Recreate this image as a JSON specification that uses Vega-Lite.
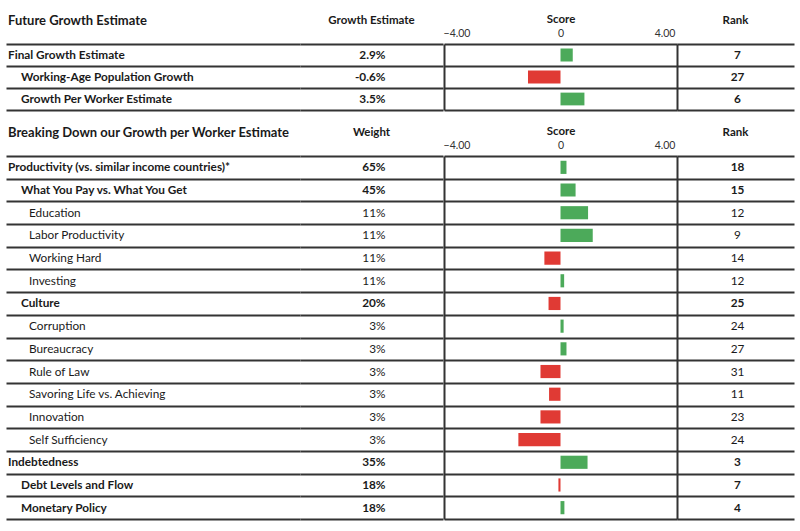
{
  "$schema": "https://vega.github.io/schema/vega-lite/v6.json",
  "padding": {"top": 13, "left": 6, "right": 5, "bottom": 5},
  "background": "white",
  "config": {
    "view": {"stroke": null},
    "font": "Lato",
    "title": {"font": "Lato", "fontSize": 11.5, "fontWeight": "bold", "color": "#1a1a1a"},
    "axisY": {"labels": false, "ticks": false, "title": null, "grid": true, "tickBand": "extent", "gridColor": "#333333", "gridWidth": 2, "gridOpacity": 1, "domain": false, "domainColor": "#333333", "domainWidth": 2}
  },
  "datasets": {
    "rows": [
      {"section": 1, "label": "Final Growth Estimate", "level": 0, "value": "2.9%", "score": 0.47, "rank": 7},
      {"section": 1, "label": "Working-Age Population Growth", "level": 1, "value": "-0.6%", "score": -1.25, "rank": 27},
      {"section": 1, "label": "Growth Per Worker Estimate", "level": 1, "value": "3.5%", "score": 0.92, "rank": 6},
      {"section": 2, "label": "Productivity (vs. similar income countries)*", "level": 0, "value": "65%", "score": 0.23, "rank": 18},
      {"section": 2, "label": "What You Pay vs. What You Get", "level": 1, "value": "45%", "score": 0.58, "rank": 15},
      {"section": 2, "label": "Education", "level": 2, "value": "11%", "score": 1.06, "rank": 12},
      {"section": 2, "label": "Labor Productivity", "level": 2, "value": "11%", "score": 1.24, "rank": 9},
      {"section": 2, "label": "Working Hard", "level": 2, "value": "11%", "score": -0.62, "rank": 14},
      {"section": 2, "label": "Investing", "level": 2, "value": "11%", "score": 0.14, "rank": 12},
      {"section": 2, "label": "Culture", "level": 1, "value": "20%", "score": -0.46, "rank": 25},
      {"section": 2, "label": "Corruption", "level": 2, "value": "3%", "score": 0.12, "rank": 24},
      {"section": 2, "label": "Bureaucracy", "level": 2, "value": "3%", "score": 0.23, "rank": 27},
      {"section": 2, "label": "Rule of Law", "level": 2, "value": "3%", "score": -0.77, "rank": 31},
      {"section": 2, "label": "Savoring Life vs. Achieving", "level": 2, "value": "3%", "score": -0.44, "rank": 11},
      {"section": 2, "label": "Innovation", "level": 2, "value": "3%", "score": -0.77, "rank": 23},
      {"section": 2, "label": "Self Sufficiency", "level": 2, "value": "3%", "score": -1.62, "rank": 24},
      {"section": 2, "label": "Indebtedness", "level": 0, "value": "35%", "score": 1.04, "rank": 3},
      {"section": 2, "label": "Debt Levels and Flow", "level": 1, "value": "18%", "score": -0.08, "rank": 7},
      {"section": 2, "label": "Monetary Policy", "level": 1, "value": "18%", "score": 0.15, "rank": 4}
    ]
  },
  "spacing": 15,
  "vconcat": [
    {
      "spacing": 0,
      "hconcat": [
        {
          "width": 294, "height": 66,
          "title": {"text": "Future Growth Estimate", "anchor": "start", "fontSize": 13, "offset": 16, "dx": 2},
          "data": {"name": "rows"},
          "transform": [{"filter": "datum.section == 1"}],
          "mark": {"type": "text", "align": "left", "baseline": "middle", "fontSize": 11.8, "color": "#1a1a1a", "fontWeight": {"expr": "datum.level < 2 ? 'bold' : 'normal'"}},
          "encoding": {
            "y": {"field": "label", "type": "nominal", "sort": null, "scale": {"type": "band", "paddingInner": 0, "paddingOuter": 0}},
            "x": {"field": "level", "type": "quantitative", "scale": {"domain": [-1, 0, 1, 2, 20], "range": [0, 2, 15, 23, 294]}, "axis": null},
            "text": {"field": "label"}
          }
        },
        {
          "width": 143, "height": 66,
          "title": {"text": "Growth Estimate", "anchor": "middle", "offset": 18},
          "data": {"name": "rows"},
          "transform": [{"filter": "datum.section == 1"}],
          "mark": {"type": "text", "align": "right", "baseline": "middle", "dx": 14, "fontSize": 11.8, "color": "#1a1a1a", "fontWeight": {"expr": "datum.level < 2 ? 'bold' : 'normal'"}},
          "encoding": {
            "y": {"field": "label", "type": "nominal", "sort": null, "scale": {"type": "band", "paddingInner": 0, "paddingOuter": 0}},
            "text": {"field": "value"}
          }
        },
        {
          "width": 233, "height": 66,
          "data": {"name": "rows"},
          "transform": [{"filter": "datum.section == 1"}],
          "mark": {"type": "bar", "height": {"band": 0.58}},
          "encoding": {
            "y": {"field": "label", "type": "nominal", "sort": null, "scale": {"type": "band", "paddingInner": 0, "paddingOuter": 0}, "axis": {"domain": true}},
            "x": {"field": "score", "type": "quantitative", "scale": {"domain": [-4.48, 4.48], "nice": false, "zero": false},
              "axis": {"orient": "top", "values": [-4, 0, 4], "labelExpr": "datum.value == 0 ? '0' : format(datum.value, '.2f')", "title": "Score", "titleFontSize": 11.5, "titleFontWeight": "bold", "titleColor": "#1a1a1a", "titlePadding": 4, "labelFontSize": 10.5, "labelColor": "#333333", "labelPadding": 6, "domain": false, "ticks": false, "grid": false}},
            "x2": {"datum": 0},
            "color": {"condition": {"test": "datum.score >= 0", "value": "#4caa5a"}, "value": "#e03a34"}
          }
        },
        {
          "width": 117, "height": 66,
          "title": {"text": "Rank", "anchor": "middle", "offset": 18},
          "data": {"name": "rows"},
          "transform": [{"filter": "datum.section == 1"}],
          "mark": {"type": "text", "align": "center", "baseline": "middle", "dx": 2, "fontSize": 11.8, "color": "#1a1a1a", "fontWeight": {"expr": "datum.level < 2 ? 'bold' : 'normal'"}},
          "encoding": {
            "y": {"field": "label", "type": "nominal", "sort": null, "scale": {"type": "band", "paddingInner": 0, "paddingOuter": 0}, "axis": {"domain": true}},
            "text": {"field": "rank"}
          }
        }
      ]
    },
    {
      "spacing": 0,
      "hconcat": [
        {
          "width": 294, "height": 363,
          "title": {"text": "Breaking Down our Growth per Worker Estimate", "anchor": "start", "fontSize": 13, "offset": 16, "dx": 2},
          "data": {"name": "rows"},
          "transform": [{"filter": "datum.section == 2"}],
          "mark": {"type": "text", "align": "left", "baseline": "middle", "fontSize": 11.8, "color": "#1a1a1a", "fontWeight": {"expr": "datum.level < 2 ? 'bold' : 'normal'"}},
          "encoding": {
            "y": {"field": "label", "type": "nominal", "sort": null, "scale": {"type": "band", "paddingInner": 0, "paddingOuter": 0}},
            "x": {"field": "level", "type": "quantitative", "scale": {"domain": [-1, 0, 1, 2, 20], "range": [0, 2, 15, 23, 294]}, "axis": null},
            "text": {"field": "label"}
          }
        },
        {
          "width": 143, "height": 363,
          "title": {"text": "Weight", "anchor": "middle", "offset": 18},
          "data": {"name": "rows"},
          "transform": [{"filter": "datum.section == 2"}],
          "mark": {"type": "text", "align": "right", "baseline": "middle", "dx": 14, "fontSize": 11.8, "color": "#1a1a1a", "fontWeight": {"expr": "datum.level < 2 ? 'bold' : 'normal'"}},
          "encoding": {
            "y": {"field": "label", "type": "nominal", "sort": null, "scale": {"type": "band", "paddingInner": 0, "paddingOuter": 0}},
            "text": {"field": "value"}
          }
        },
        {
          "width": 233, "height": 363,
          "data": {"name": "rows"},
          "transform": [{"filter": "datum.section == 2"}],
          "mark": {"type": "bar", "height": {"band": 0.58}},
          "encoding": {
            "y": {"field": "label", "type": "nominal", "sort": null, "scale": {"type": "band", "paddingInner": 0, "paddingOuter": 0}, "axis": {"domain": true}},
            "x": {"field": "score", "type": "quantitative", "scale": {"domain": [-4.48, 4.48], "nice": false, "zero": false},
              "axis": {"orient": "top", "values": [-4, 0, 4], "labelExpr": "datum.value == 0 ? '0' : format(datum.value, '.2f')", "title": "Score", "titleFontSize": 11.5, "titleFontWeight": "bold", "titleColor": "#1a1a1a", "titlePadding": 4, "labelFontSize": 10.5, "labelColor": "#333333", "labelPadding": 6, "domain": false, "ticks": false, "grid": false}},
            "x2": {"datum": 0},
            "color": {"condition": {"test": "datum.score >= 0", "value": "#4caa5a"}, "value": "#e03a34"}
          }
        },
        {
          "width": 117, "height": 363,
          "title": {"text": "Rank", "anchor": "middle", "offset": 18},
          "data": {"name": "rows"},
          "transform": [{"filter": "datum.section == 2"}],
          "mark": {"type": "text", "align": "center", "baseline": "middle", "dx": 2, "fontSize": 11.8, "color": "#1a1a1a", "fontWeight": {"expr": "datum.level < 2 ? 'bold' : 'normal'"}},
          "encoding": {
            "y": {"field": "label", "type": "nominal", "sort": null, "scale": {"type": "band", "paddingInner": 0, "paddingOuter": 0}, "axis": {"domain": true}},
            "text": {"field": "rank"}
          }
        }
      ]
    }
  ]
}
